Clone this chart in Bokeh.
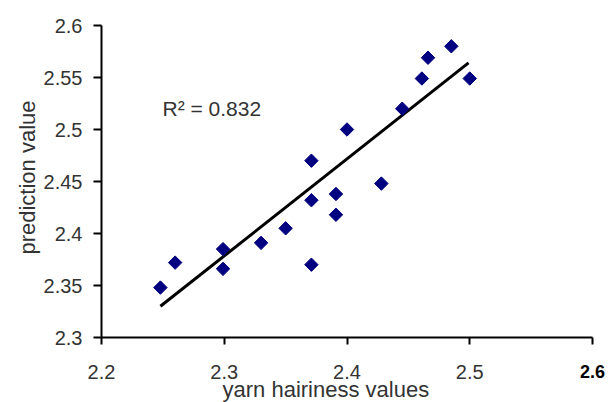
import numpy as np
from bokeh.plotting import figure
from bokeh.models import Range1d, FixedTicker, Label
from bokeh.embed import file_html
from bokeh.resources import INLINE

# --- data ---
hairiness = [2.248, 2.260, 2.299, 2.299, 2.330, 2.350, 2.371, 2.371, 2.371,
             2.391, 2.391, 2.400, 2.428, 2.445, 2.461, 2.466, 2.485, 2.500]
prediction = [2.348, 2.372, 2.385, 2.366, 2.391, 2.405, 2.470, 2.432, 2.370,
              2.438, 2.418, 2.500, 2.448, 2.520, 2.549, 2.569, 2.580, 2.549]
# trend line end points
trend_x = [2.248, 2.499]
trend_y = [2.330, 2.564]
x_ticks = [2.2, 2.3, 2.4, 2.5, 2.6]
x_tick_labels = ["2.2", "2.3", "2.4", "2.5", ""]
last_x_label = "2.6"
y_ticks = [2.3, 2.35, 2.4, 2.45, 2.5, 2.55, 2.6]
y_tick_labels = ["2.3", "2.35", "2.4", "2.45", "2.5", "2.55", "2.6"]
r2_text = "R² = 0.832"
x_title = "yarn hairiness values"
y_title = "prediction value"

# --- layout (pixels) ---
W, H = 608, 402
AX_L, AX_R, AX_T, AX_B = 101, 592, 25, 337      # where the axes sit
X0, X1, Y0, Y1 = 2.2, 2.6, 2.3, 2.6             # axis extents
KX = (AX_R - AX_L) / (X1 - X0)                  # px per x unit
KY = (AX_B - AX_T) / (Y1 - Y0)                  # px per y unit


def dx(px):
    return X0 + (px - AX_L) / KX


def dy(py):
    return Y0 + (AX_B - py) / KY


FONT = "Liberation Sans"
TXT = "#333333"

p = figure(width=W, height=H, output_backend="svg", toolbar_location=None,
           x_range=Range1d(dx(0), dx(W)), y_range=Range1d(dy(H), dy(0)),
           min_border=0, min_border_left=0, min_border_right=0,
           min_border_top=0, min_border_bottom=0)
p.outline_line_color = None
p.grid.visible = False
p.background_fill_color = "white"
p.border_fill_color = "white"

p.line(trend_x, trend_y, line_color="black", line_width=3)
p.scatter(hairiness, prediction, marker="square", angle=np.pi / 4, size=9.5,
          fill_color="#000080", line_color="#000080")

xa = p.xaxis[0]
xa.fixed_location = Y0
xa.bounds = (X0, X1)
xa.ticker = FixedTicker(ticks=x_ticks)
xa.major_label_overrides = dict(zip(x_ticks, x_tick_labels))
xa.minor_tick_line_color = None
xa.major_tick_in = 0
xa.major_tick_out = 7
xa.major_label_standoff = 20
xa.axis_line_width = 2
xa.axis_line_color = "black"
xa.major_tick_line_color = "black"
xa.major_tick_line_width = 2
xa.major_label_text_font = FONT
xa.major_label_text_font_size = "20px"
xa.major_label_text_color = TXT

ya = p.yaxis[0]
ya.fixed_location = X0
ya.bounds = (Y0, Y1)
ya.ticker = FixedTicker(ticks=y_ticks)
ya.major_label_overrides = dict(zip(y_ticks, y_tick_labels))
ya.minor_tick_line_color = None
ya.major_tick_in = 0
ya.major_tick_out = 8
ya.major_label_standoff = 11
ya.axis_line_width = 2
ya.axis_line_color = "black"
ya.major_tick_line_color = "black"
ya.major_tick_line_width = 2
ya.major_label_text_font = FONT
ya.major_label_text_font_size = "20px"
ya.major_label_text_color = TXT

# bold last x tick label
p.add_layout(Label(x=X1, y=dy(371), text=last_x_label, text_align="center",
                   text_baseline="middle", text_font=FONT,
                   text_font_size="18px", text_font_style="bold",
                   text_color="black"))
# axis titles
p.add_layout(Label(x=dx(222), y=dy(401), text=x_title, text_align="left",
                   text_baseline="bottom", text_font=FONT,
                   text_font_size="22px", text_color=TXT))
p.add_layout(Label(x=dx(27), y=dy(177), text=y_title, angle=np.pi / 2,
                   text_align="center", text_baseline="middle",
                   text_font=FONT, text_font_size="22px", text_color=TXT))
# R^2 annotation
p.add_layout(Label(x=dx(162), y=dy(108), text=r2_text, text_align="left",
                   text_baseline="middle", text_font=FONT,
                   text_font_size="21px", text_color=TXT))

open("out.html", "w").write(file_html(p, INLINE))
